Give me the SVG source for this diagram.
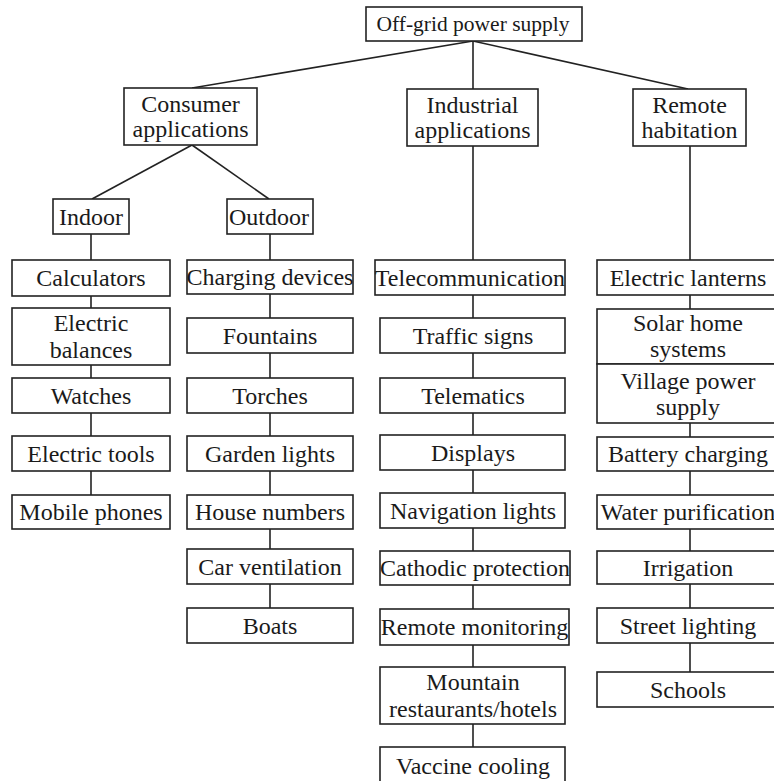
<svg xmlns="http://www.w3.org/2000/svg" width="774" height="781" viewBox="0 0 774 781">
<style>
rect.n{fill:#fff;stroke:#222;stroke-width:1.6}
text{font-family:"Liberation Serif","Times New Roman",serif;font-size:24px;fill:#1a1a1a;text-anchor:middle}
text.r{font-size:21.5px}
.c line{stroke:#222;stroke-width:1.6}
</style>
<rect width="774" height="781" fill="#fff"/>
<g class="c" id="connectors">
<line x1="473" y1="41" x2="192" y2="88"/>
<line x1="473" y1="41" x2="473" y2="89"/>
<line x1="473" y1="41" x2="688" y2="89"/>
<line x1="192" y1="145" x2="92" y2="199"/>
<line x1="192" y1="145" x2="269" y2="199"/>
<line x1="91" y1="234" x2="91" y2="495"/>
<line x1="270" y1="234" x2="270" y2="608"/>
<line x1="473" y1="146" x2="473" y2="747"/>
<line x1="690" y1="146" x2="690" y2="672"/>
</g>
<g id="root"><rect class="n" x="366" y="7" width="216" height="34"/><text class="r" x="473" y="31">Off-grid power supply</text></g>
<g id="consumer"><rect class="n" x="124" y="88" width="133" height="57"/><text x="190.5" y="112">Consumer</text><text x="190.5" y="137">applications</text></g>
<g id="industrial"><rect class="n" x="407" y="89" width="131" height="57"/><text x="472.5" y="113">Industrial</text><text x="472.5" y="138">applications</text></g>
<g id="remote"><rect class="n" x="633" y="89" width="113" height="57"/><text x="689.5" y="113">Remote</text><text x="689.5" y="138">habitation</text></g>
<g id="indoor"><rect class="n" x="53" y="199" width="76" height="35"/><text x="91" y="225">Indoor</text></g>
<g id="outdoor"><rect class="n" x="227" y="199" width="86" height="35"/><text x="269" y="225">Outdoor</text></g>

<g id="calculators"><rect class="n" x="12" y="260" width="158" height="36"/><text x="91" y="286">Calculators</text></g>
<g id="electric-balances"><rect class="n" x="12" y="308" width="158" height="57"/><text x="91" y="331">Electric</text><text x="91" y="358">balances</text></g>
<g id="watches"><rect class="n" x="12" y="378" width="158" height="35"/><text x="91" y="404">Watches</text></g>
<g id="electric-tools"><rect class="n" x="12" y="436" width="158" height="35"/><text x="91" y="462">Electric tools</text></g>
<g id="mobile-phones"><rect class="n" x="12" y="495" width="158" height="34"/><text x="91" y="520">Mobile phones</text></g>

<g id="charging-devices"><rect class="n" x="187" y="260" width="166" height="34"/><text x="270" y="285">Charging devices</text></g>
<g id="fountains"><rect class="n" x="187" y="318" width="166" height="35"/><text x="270" y="344">Fountains</text></g>
<g id="torches"><rect class="n" x="187" y="378" width="166" height="35"/><text x="270" y="404">Torches</text></g>
<g id="garden-lights"><rect class="n" x="187" y="436" width="166" height="35"/><text x="270" y="462">Garden lights</text></g>
<g id="house-numbers"><rect class="n" x="187" y="495" width="166" height="34"/><text x="270" y="520">House numbers</text></g>
<g id="car-ventilation"><rect class="n" x="187" y="549" width="166" height="35"/><text x="270" y="575">Car ventilation</text></g>
<g id="boats"><rect class="n" x="187" y="608" width="166" height="35"/><text x="270" y="634">Boats</text></g>

<g id="telecommunication"><rect class="n" x="375" y="260" width="190" height="35"/><text x="470" y="286">Telecommunication</text></g>
<g id="traffic-signs"><rect class="n" x="380" y="318" width="185" height="35"/><text x="473" y="344">Traffic signs</text></g>
<g id="telematics"><rect class="n" x="380" y="378" width="185" height="35"/><text x="473" y="404">Telematics</text></g>
<g id="displays"><rect class="n" x="380" y="435" width="185" height="35"/><text x="473" y="461">Displays</text></g>
<g id="navigation-lights"><rect class="n" x="380" y="493" width="185" height="35"/><text x="473" y="519">Navigation lights</text></g>
<g id="cathodic-protection"><rect class="n" x="380" y="551" width="190" height="34"/><text x="475" y="576">Cathodic protection</text></g>
<g id="remote-monitoring"><rect class="n" x="380" y="609" width="189" height="36"/><text x="474.5" y="635">Remote monitoring</text></g>
<g id="mountain-restaurants"><rect class="n" x="380" y="667" width="185" height="57"/><text x="473" y="690">Mountain</text><text x="473" y="717">restaurants/hotels</text></g>
<g id="vaccine-cooling"><rect class="n" x="380" y="747" width="185" height="40"/><text x="473" y="774">Vaccine cooling</text></g>

<g id="electric-lanterns"><rect class="n" x="597" y="260" width="182" height="35"/><text x="688" y="286">Electric lanterns</text></g>
<g id="solar-home-systems"><rect class="n" x="597" y="309" width="182" height="55"/><text x="688" y="331">Solar home</text><text x="688" y="357">systems</text></g>
<g id="village-power-supply"><rect class="n" x="597" y="364" width="182" height="59"/><text x="688" y="389">Village power</text><text x="688" y="415">supply</text></g>
<g id="battery-charging"><rect class="n" x="597" y="437" width="182" height="34"/><text x="688" y="462">Battery charging</text></g>
<g id="water-purification"><rect class="n" x="597" y="495" width="182" height="34"/><text x="688" y="520">Water purification</text></g>
<g id="irrigation"><rect class="n" x="597" y="551" width="182" height="33"/><text x="688" y="576">Irrigation</text></g>
<g id="street-lighting"><rect class="n" x="597" y="608" width="182" height="35"/><text x="688" y="634">Street lighting</text></g>
<g id="schools"><rect class="n" x="597" y="672" width="182" height="35"/><text x="688" y="698">Schools</text></g>
</svg>
